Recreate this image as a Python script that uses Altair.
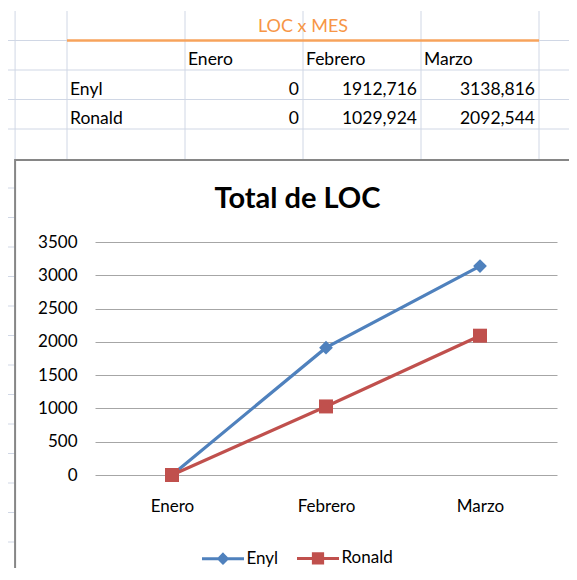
import altair as alt
import pandas as pd

# ---------------- data ----------------
months = ["Enero", "Febrero", "Marzo"]
series = ["Enyl", "Ronald"]
enyl = [0, 1912.716, 3138.816]
ronald = [0, 1029.924, 2092.544]
table_title = "LOC x MES"
chart_title = "Total de LOC"
y_ticks = [0, 500, 1000, 1500, 2000, 2500, 3000, 3500]

# ---------------- style ----------------
colors = ["#4F81BD", "#C0504D"]
legend_paths = [
    "M-1,0H1M0,-0.2L0.2,0L0,0.2L-0.2,0Z",
    "M-1,0H1M-0.22,-0.22H0.22V0.22H-0.22Z",
]
FONT = "Lato"
W, H = 561, 560


def fmt(v):
    s = ("%.3f" % v).rstrip("0").rstrip(".")
    return s.replace(".", ",")


values = [enyl, ronald]
long = pd.DataFrame(
    [{"month": m, "series": s, "name": s, "value": v}
     for s, vals in zip(series, values) for m, v in zip(months, vals)]
)

# ---------------- spreadsheet layer (cell units) ----------------
SX = alt.Scale(domain=[-0.5, (W - 59) / 118], nice=False, zero=False)
SY = alt.Scale(domain=[-3 / 29.5, (H - 3) / 29.5], nice=False, zero=False, reverse=True)

sheet_cols = [-0.44, 0, 1, 2, 3, 4]
grid = [dict(x=u, x2=u, y=0, y2=5.05) for u in sheet_cols]
grid += [dict(x=-0.5, x2=0, y=1, y2=1), dict(x=4, x2=4.4, y=1, y2=1)]
grid += [dict(x=-0.5, x2=4.4, y=r, y2=r) for r in [2, 3, 4]]
grid += [dict(x=-0.5, x2=-0.44, y=r, y2=r) for r in range(6, 20)]
grid_df = pd.DataFrame(grid)


def sxy(c):
    return c.encode(
        x=alt.X("x:Q", scale=SX, axis=None),
        y=alt.Y("y:Q", scale=SY, axis=None),
    )


grid_layer = alt.Chart(grid_df).mark_rule(color="#D0D7E5", strokeWidth=1).encode(
    x=alt.X("x:Q", scale=SX, axis=None), x2="x2:Q",
    y=alt.Y("y:Q", scale=SY, axis=None), y2="y2:Q",
)

orange = alt.Chart(pd.DataFrame([dict(x=0, x2=4, y=1)])).mark_rule(
    color="#F7A35C", strokeWidth=2.5
).encode(x=alt.X("x:Q", scale=SX, axis=None), x2="x2:Q",
         y=alt.Y("y:Q", scale=SY, axis=None))

border = alt.Chart(pd.DataFrame([dict(x=-0.44, x2=8, y=5.05, y2=30)])).mark_rect(
    fillOpacity=0, stroke="#868686", strokeWidth=2
).encode(x=alt.X("x:Q", scale=SX, axis=None), x2="x2:Q",
         y=alt.Y("y:Q", scale=SY, axis=None), y2="y2:Q")

left_txt = [dict(t=m, x=i + 1, y=2) for i, m in enumerate(months)]
left_txt += [dict(t=s, x=0, y=3 + j) for j, s in enumerate(series)]
right_txt = [dict(t=fmt(v), x=i + 2, y=3 + j)
             for j, vals in enumerate(values) for i, v in enumerate(vals)]

t_left = sxy(alt.Chart(pd.DataFrame(left_txt)).mark_text(
    align="left", baseline="alphabetic", dx=3, dy=-5, font=FONT, fontSize=17.5, color="black"
)).encode(text="t:N")
t_right = sxy(alt.Chart(pd.DataFrame(right_txt)).mark_text(
    align="right", baseline="alphabetic", dx=-4, dy=-5, font=FONT, fontSize=17.5, color="black"
)).encode(text="t:N")
t_title = sxy(alt.Chart(pd.DataFrame([dict(t=table_title, x=2, y=1)])).mark_text(
    align="center", baseline="alphabetic", dy=-8.5, font=FONT, fontSize=18, color="#F79646"
)).encode(text="t:N")

sheet = alt.layer(grid_layer, orange, border, t_left, t_right, t_title)

# ---------------- line chart ----------------
X = alt.X(
    "month:O",
    scale=alt.Scale(type="point", domain=months, range=[87, 549], padding=0.5),
    axis=alt.Axis(title=None, orient="bottom", labelAngle=0, domain=False, ticks=False,
                  tickSize=0, grid=False, offset=-(H - 467), labelPadding=23,
                  labelFont=FONT, labelFontSize=17, labelColor="black"),
)
Y = alt.Y(
    "value:Q",
    scale=alt.Scale(domain=[0, 3500], range=[467, 234], nice=False),
    axis=alt.Axis(title=None, orient="left", values=y_ticks, format="d", domain=False,
                  ticks=False, tickSize=0, grid=True, gridColor="#A6A6A6", gridWidth=1,
                  offset=-87, labelPadding=18, labelFont=FONT, labelFontSize=17,
                  labelColor="black"),
)
# colour of the drawn series (legend drawn by the proxy layer below)
C = alt.Color("name:N", scale=alt.Scale(range=colors), legend=None)

lines = alt.Chart(long).mark_line(strokeWidth=3.2).encode(x=X, y=Y, color=C)
diamonds = alt.Chart(long).transform_filter(alt.datum.series == series[0]).mark_point(
    shape="diamond", filled=True, size=190, opacity=1
).encode(x=X, y=Y, color=C)
squares = alt.Chart(long).transform_filter(alt.datum.series == series[1]).mark_point(
    shape="square", filled=True, size=196, opacity=1
).encode(x=X, y=Y, color=C)

LEG = alt.Legend(title=None, orient="none", legendX=192.5, legendY=527.5,
                 direction="horizontal", symbolSize=1764, symbolStrokeWidth=3,
                 symbolOpacity=1, labelFont=FONT, labelFontSize=17, labelColor="black",
                 labelOffset=1, columnPadding=12)
# legend proxy: one mark per series, kept outside the plot (clipped)
legend_layer = alt.Chart(long).mark_point(
    filled=True, opacity=1, strokeWidth=3, clip=True
).encode(
    x=alt.value(-200), y=alt.value(-200),
    fill=alt.Fill("series:N", scale=alt.Scale(domain=series, range=colors), legend=LEG),
    stroke=alt.Stroke("series:N", scale=alt.Scale(domain=series, range=colors), legend=LEG),
    shape=alt.Shape("series:N", scale=alt.Scale(domain=series, range=legend_paths), legend=LEG),
)

plot = alt.layer(lines, diamonds, squares, legend_layer)

chart = alt.layer(sheet, plot).resolve_scale(
    x="independent", y="independent"
).properties(
    width=W, height=H, padding=0, background="white",
    autosize=alt.AutoSizeParams(type="none"),
    title=alt.TitleParams(text=chart_title, font=FONT, fontSize=29, fontWeight="bold",
                          color="black", anchor="middle", frame="group",
                          offset=-206, dx=9),
).configure_view(stroke=None)

chart.save("out.html", embed_options={"renderer": "svg", "actions": False})
